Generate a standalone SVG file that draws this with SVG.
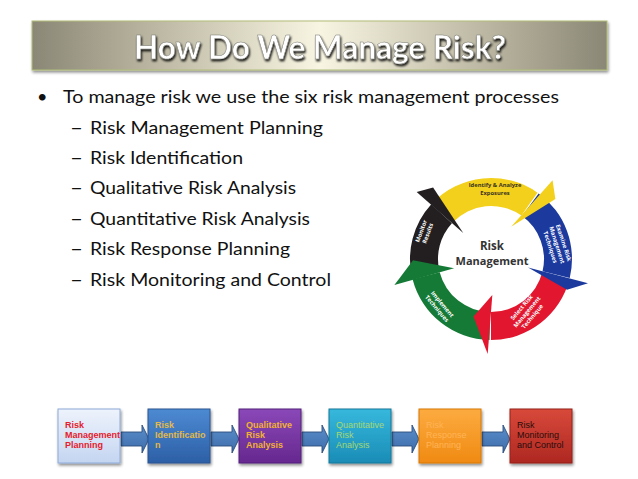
<svg xmlns="http://www.w3.org/2000/svg" width="638" height="479" viewBox="0 0 638 479">
<defs>
  <linearGradient id="banner" x1="0" y1="0" x2="1" y2="0">
    <stop offset="0" stop-color="#8b8776"/>
    <stop offset="0.2" stop-color="#b8b49f"/>
    <stop offset="0.5" stop-color="#f8f5e2"/>
    <stop offset="0.8" stop-color="#b8b49f"/>
    <stop offset="1" stop-color="#8b8776"/>
  </linearGradient>
  <filter id="shadow" x="-5%" y="-20%" width="110%" height="160%">
    <feGaussianBlur in="SourceAlpha" stdDeviation="1.5"/>
    <feOffset dx="1" dy="2" result="b"/>
    <feComponentTransfer><feFuncA type="linear" slope="0.45"/></feComponentTransfer>
    <feMerge><feMergeNode/><feMergeNode in="SourceGraphic"/></feMerge>
  </filter>
  <filter id="tshadow" x="-5%" y="-30%" width="110%" height="160%">
    <feGaussianBlur in="SourceAlpha" stdDeviation="1.3"/>
    <feOffset dx="1" dy="1.5" result="b"/>
    <feComponentTransfer><feFuncA type="linear" slope="0.9"/></feComponentTransfer>
    <feMerge><feMergeNode/><feMergeNode in="SourceGraphic"/></feMerge>
  </filter>
  <linearGradient id="g1" x1="0" y1="0" x2="0" y2="1"><stop offset="0" stop-color="#eef3fc"/><stop offset="1" stop-color="#c4d5f1"/></linearGradient>
  <linearGradient id="g2" x1="0" y1="0" x2="0" y2="1"><stop offset="0" stop-color="#4d8ad2"/><stop offset="1" stop-color="#2c5fa6"/></linearGradient>
  <linearGradient id="g3" x1="0" y1="0" x2="0" y2="1"><stop offset="0" stop-color="#8a48b8"/><stop offset="1" stop-color="#66288f"/></linearGradient>
  <linearGradient id="g4" x1="0" y1="0" x2="0" y2="1"><stop offset="0" stop-color="#36b8dc"/><stop offset="1" stop-color="#1a8cb6"/></linearGradient>
  <linearGradient id="g5" x1="0" y1="0" x2="0" y2="1"><stop offset="0" stop-color="#fcab40"/><stop offset="1" stop-color="#f08a12"/></linearGradient>
  <linearGradient id="g6" x1="0" y1="0" x2="0" y2="1"><stop offset="0" stop-color="#d8493a"/><stop offset="1" stop-color="#ae2822"/></linearGradient>
  <linearGradient id="ga" x1="0" y1="0" x2="0" y2="1"><stop offset="0" stop-color="#5b8dcb"/><stop offset="1" stop-color="#3d6daa"/></linearGradient>
</defs>
<style>
  .body { font-family: Lato, "Open Sans", "Liberation Sans", sans-serif; font-size: 18px; fill: #111; }
  .box { stroke-width: 1; filter: url(#shadow); }
  .bt { font-family: "Liberation Sans", Arial, sans-serif; font-size: 9px; }
  .bold { font-weight: bold; }
  .flow { fill: url(#ga); stroke: #2b4c78; stroke-width: 0.9; }
  .seg { font-family: "Open Sans", "Liberation Sans", sans-serif; font-size: 5.8px; font-weight: bold; text-anchor: middle; }
  .wt { fill: #ffffff; }
</style>

<g id="title">
  <rect x="32" y="21" width="575" height="49" fill="url(#banner)" stroke="#b1bd78" stroke-width="1" filter="url(#shadow)"/>
  <text x="320" y="59" text-anchor="middle" font-family="Lato, 'Open Sans', 'Liberation Sans', sans-serif" font-size="33" font-weight="bold" fill="#ffffff" stroke="#7a7a72" stroke-width="0.5" textLength="372" lengthAdjust="spacingAndGlyphs" filter="url(#tshadow)">How Do We Manage Risk?</text>
</g>

<g id="bullets">
  <text class="body" x="37" y="103">•</text>
  <text class="body" x="63" y="103" textLength="496" lengthAdjust="spacingAndGlyphs">To manage risk we use the six risk management processes</text>
  <text class="body" x="70" y="134" textLength="13" lengthAdjust="spacingAndGlyphs">–</text>
  <text class="body" x="90" y="134" textLength="233" lengthAdjust="spacingAndGlyphs">Risk Management Planning</text>
  <text class="body" x="70" y="164" textLength="13" lengthAdjust="spacingAndGlyphs">–</text>
  <text class="body" x="90" y="164" textLength="153" lengthAdjust="spacingAndGlyphs">Risk Identification</text>
  <text class="body" x="70" y="194" textLength="13" lengthAdjust="spacingAndGlyphs">–</text>
  <text class="body" x="90" y="194" textLength="206" lengthAdjust="spacingAndGlyphs">Qualitative Risk Analysis</text>
  <text class="body" x="70" y="225" textLength="13" lengthAdjust="spacingAndGlyphs">–</text>
  <text class="body" x="90" y="225" textLength="220" lengthAdjust="spacingAndGlyphs">Quantitative Risk Analysis</text>
  <text class="body" x="70" y="255" textLength="13" lengthAdjust="spacingAndGlyphs">–</text>
  <text class="body" x="90" y="255" textLength="200" lengthAdjust="spacingAndGlyphs">Risk Response Planning</text>
  <text class="body" x="70" y="286" textLength="13" lengthAdjust="spacingAndGlyphs">–</text>
  <text class="body" x="90" y="286" textLength="241" lengthAdjust="spacingAndGlyphs">Risk Monitoring and Control</text>
</g>

<g id="cycle">
  <g id="cycle-bodies">
    <path fill="#f2d01c" d="M432.24 203.24 A81 81 0 0 1 537.46 192.64 L521.40 215.58 A53 53 0 0 0 452.55 222.51 Z"/>
    <path fill="#1c399e" d="M538.61 193.47 A81 81 0 0 1 569.76 277.91 L542.54 271.37 A53 53 0 0 0 522.15 216.12 Z"/>
    <path fill="#e2162e" d="M569.42 279.28 A81 81 0 0 1 491 340 L491 312 A53 53 0 0 0 542.31 272.27 Z"/>
    <path fill="#157a36" d="M489.58 339.98 A81 81 0 0 1 412.58 279.28 L439.69 272.27 A53 53 0 0 0 490.07 311.99 Z"/>
    <path fill="#231f20" d="M412.24 277.91 A81 81 0 0 1 431.28 204.28 L451.92 223.19 A53 53 0 0 0 439.46 271.37 Z"/>
  </g>
  <g id="cycle-heads">
    <polygon fill="#f2d01c" points="511.14,226.78 552.57,180.20 555.36,198.98"/>
    <polygon fill="#1c399e" points="528.03,267.55 588.03,283.19 567.03,289.72"/>
    <polygon fill="#e2162e" points="492.33,294.98 487.68,353.94 473.46,316.38"/>
    <polygon fill="#157a36" points="454.13,268.19 394.41,284.88 413.02,260.37"/>
    <polygon fill="#231f20" points="463.21,233.08 416.69,192.09 433.10,187.51"/>
  </g>
  <g id="cycle-labels">
    <text class="seg" fill="#3a3320" x="495" y="187">Identify &amp; Analyze</text>
    <text class="seg" fill="#3a3320" x="495" y="195">Exposures</text>
    <g transform="translate(557,245) rotate(72)">
      <text class="seg wt" x="0" y="-5">Examine Risk</text>
      <text class="seg wt" x="0" y="2">Management</text>
      <text class="seg wt" x="0" y="9">Techniques</text>
    </g>
    <g transform="translate(527,312) rotate(-50)">
      <text class="seg wt" x="0" y="-5">Select Risk</text>
      <text class="seg wt" x="0" y="2">Management</text>
      <text class="seg wt" x="0" y="9">Technique</text>
    </g>
    <g transform="translate(440,306) rotate(50)">
      <text class="seg wt" x="0" y="-1">Implement</text>
      <text class="seg wt" x="0" y="6">Techniques</text>
    </g>
    <g transform="translate(424,232) rotate(-70)">
      <text class="seg wt" x="0" y="-1">Monitor</text>
      <text class="seg wt" x="0" y="6">Results</text>
    </g>
  </g>
  <g id="cycle-center">
    <text x="492" y="250" text-anchor="middle" font-family="'Open Sans', 'Liberation Sans', sans-serif" font-size="11.5" font-weight="bold" fill="#333">Risk</text>
    <text x="492" y="265" text-anchor="middle" font-family="'Open Sans', 'Liberation Sans', sans-serif" font-size="11" font-weight="bold" fill="#333">Management</text>
  </g>
</g>

<g id="connectors">
  <path class="flow" d="M121 432 H142 V425 L149 439 L142 453 V446 H121 Z"/>
  <path class="flow" d="M211 432 H232 V425 L239 439 L232 453 V446 H211 Z"/>
  <path class="flow" d="M302 432 H322 V425 L329 439 L322 453 V446 H302 Z"/>
  <path class="flow" d="M392 432 H412 V425 L419 439 L412 453 V446 H392 Z"/>
  <path class="flow" d="M482 432 H503 V425 L510 439 L503 453 V446 H482 Z"/>
</g>

<g id="box1">
  <rect class="box" x="58" y="409" width="62" height="54" fill="url(#g1)" stroke="#8eaad8"/>
  <text class="bt bold" fill="#e4202c" x="65" y="427.5">Risk</text>
  <text class="bt bold" fill="#e4202c" x="65" y="437.5">Management</text>
  <text class="bt bold" fill="#e4202c" x="65" y="447.5">Planning</text>
</g>
<g id="box2">
  <rect class="box" x="148" y="409" width="62" height="54" fill="url(#g2)" stroke="#2a5590"/>
  <text class="bt bold" fill="#e2ba4a" x="155" y="427.5">Risk</text>
  <text class="bt bold" fill="#e2ba4a" x="155" y="437.5">Identificatio</text>
  <text class="bt bold" fill="#e2ba4a" x="155" y="447.5">n</text>
</g>
<g id="box3">
  <rect class="box" x="239" y="409" width="62" height="54" fill="url(#g3)" stroke="#55207a"/>
  <text class="bt bold" fill="#f2b232" x="246" y="427.5">Qualitative</text>
  <text class="bt bold" fill="#f2b232" x="246" y="437.5">Risk</text>
  <text class="bt bold" fill="#f2b232" x="246" y="447.5">Analysis</text>
</g>
<g id="box4">
  <rect class="box" x="329" y="409" width="62" height="54" fill="url(#g4)" stroke="#18789c"/>
  <text class="bt" fill="#a6d872" x="336" y="427.5">Quantitative</text>
  <text class="bt" fill="#a6d872" x="336" y="437.5">Risk</text>
  <text class="bt" fill="#a6d872" x="336" y="447.5">Analysis</text>
</g>
<g id="box5">
  <rect class="box" x="419" y="409" width="62" height="54" fill="url(#g5)" stroke="#d87808"/>
  <text class="bt" fill="#ffb456" x="426" y="427.5">Risk</text>
  <text class="bt" fill="#ffb456" x="426" y="437.5">Response</text>
  <text class="bt" fill="#ffb456" x="426" y="447.5">Planning</text>
</g>
<g id="box6">
  <rect class="box" x="510" y="409" width="62" height="54" fill="url(#g6)" stroke="#95201a"/>
  <text class="bt" fill="#2a0c0a" x="517" y="427.5">Risk</text>
  <text class="bt" fill="#2a0c0a" x="517" y="437.5">Monitoring</text>
  <text class="bt" fill="#2a0c0a" x="517" y="447.5">and Control</text>
</g>
</svg>
